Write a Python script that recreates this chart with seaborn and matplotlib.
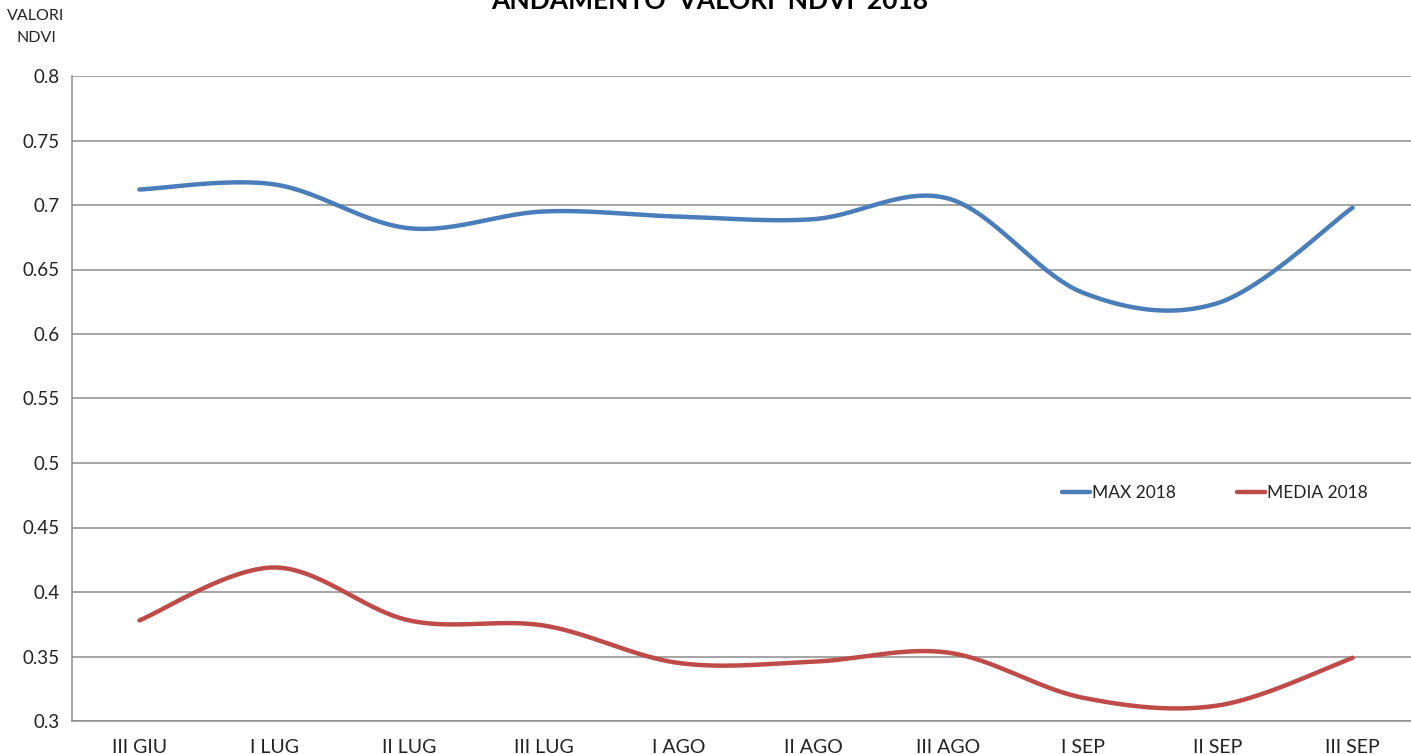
import numpy as np
import pandas as pd
import matplotlib
matplotlib.use("Agg")
import matplotlib.pyplot as plt
import seaborn as sns

# ---- data ----
categories = ["III GIU", "I LUG", "II LUG", "III LUG", "I AGO",
              "II AGO", "III AGO", "I SEP", "II SEP", "III SEP"]
max_2018 = [0.712, 0.716, 0.682, 0.695, 0.691, 0.689, 0.705, 0.632, 0.624, 0.698]
media_2018 = [0.378, 0.419, 0.378, 0.374, 0.345, 0.346, 0.353, 0.318, 0.312, 0.349]
series_names = ["MAX 2018", "MEDIA 2018"]
y_ticks = [0.3, 0.35, 0.4, 0.45, 0.5, 0.55, 0.6, 0.65, 0.7, 0.75, 0.8]
title = "ANDAMENTO  VALORI  NDVI  2018"
y_label = "VALORI\nNDVI"

BLUE = "#4A7EBB"
RED = "#BE4B48"
GRID = "#8C8C8C"


def smooth(xs, ys, n=40):
    """Excel-like smoothed line (Catmull-Rom Bezier) for rendering."""
    xs = np.asarray(xs, float)
    ys = np.asarray(ys, float)
    P = np.column_stack([xs, ys])
    P_ext = np.vstack([P[0], P, P[-1]])
    out = []
    for i in range(len(P) - 1):
        p0, p1, p2, p3 = P_ext[i], P_ext[i + 1], P_ext[i + 2], P_ext[i + 3]
        c1 = p1 + (p2 - p0) / 6.0
        c2 = p2 - (p3 - p1) / 6.0
        t = np.linspace(0, 1, n, endpoint=(i == len(P) - 2))[:, None]
        b = ((1 - t) ** 3) * p1 + 3 * ((1 - t) ** 2) * t * c1 + 3 * (1 - t) * t ** 2 * c2 + t ** 3 * p2
        out.append(b)
    out = np.vstack(out)
    return out[:, 0], out[:, 1]


sns.set_theme(style="white")
plt.rcParams["font.family"] = ["Lato", "DejaVu Sans"]

fig = plt.figure(figsize=(14.11, 7.54), dpi=100)
W, H = 1411, 754
ax = fig.add_axes([72 / W, 1 - 721 / H, (1411 - 72) / W, (721 - 76) / H])

xi = np.arange(len(categories))
frames = []
for name, vals in zip(series_names, [max_2018, media_2018]):
    sx, sy = smooth(xi, vals)
    frames.append(pd.DataFrame({"x": sx, "y": sy, "serie": name}))
df = pd.concat(frames, ignore_index=True)

sns.lineplot(data=df, x="x", y="y", hue="serie", palette=[BLUE, RED],
             sort=False, estimator=None, linewidth=3.2, ax=ax,
             solid_capstyle="round", zorder=3)

ax.set_xlim(-0.5, len(categories) - 0.5 - 0.067)
ax.set_ylim(0.3, 0.8)
ax.set_yticks(y_ticks)
ax.set_yticklabels([("%g" % v) for v in y_ticks])
ax.set_xticks(xi)
ax.set_xticklabels(categories)
ax.set_xticks(np.arange(-0.5, len(categories) - 0.5, 1.0), minor=True)
ax.set_xlabel("")
ax.set_ylabel("")

ax.grid(axis="y", color=GRID, linewidth=1.1, zorder=1)
ax.grid(axis="x", visible=False)
for s in ["top", "right"]:
    ax.spines[s].set_visible(False)
for s in ["left", "bottom"]:
    ax.spines[s].set_color(GRID)
    ax.spines[s].set_linewidth(1.1)

ax.tick_params(axis="x", which="major", length=0, pad=13, labelsize=14, labelcolor="#222222")
ax.tick_params(axis="x", which="minor", length=6, width=1.1, color=GRID, direction="out")
ax.tick_params(axis="y", which="major", length=6, width=1.1, color=GRID, direction="out",
               pad=3, labelsize=13.5, labelcolor="#222222")

leg = ax.legend(loc="center", bbox_to_anchor=((1215 - 72) / 1339, (721 - 493) / 645),
                ncol=2, frameon=False, fontsize=12.5, handlelength=1.6,
                handletextpad=0.15, columnspacing=3.5)
for t in leg.get_texts():
    t.set_color("#222222")

fig.text(710 / W, 1 - 9 / H, title, ha="center", va="baseline",
         fontsize=19, fontweight="bold", color="black")
fig.text(36 / W, 1 - 9 / H, y_label, ha="center", va="top",
         fontsize=11.5, color="#222222", linespacing=1.75)

fig.savefig("out.png", dpi=100)
